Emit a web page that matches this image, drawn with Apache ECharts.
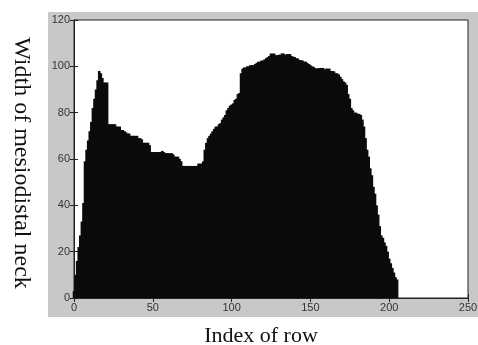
<!DOCTYPE html>
<html>
<head>
<meta charset="utf-8">
<script src="https://cdn.jsdelivr.net/npm/echarts@6/dist/echarts.min.js"></script>
<style>
  html, body { margin: 0; padding: 0; background: #fff; }
  #chart { width: 478px; height: 345px; }
</style>
</head>
<body>
<div id="chart"></div>
<script>
// width of the neck per row index (row 0 .. 205)
const widths = [
  3, 10, 16, 22, 27, 33, 41, 59, 64, 68,
  72, 76, 82, 86, 90, 94, 98, 97, 95, 93,
  93, 93, 75, 75, 75, 75, 75, 74, 74, 74,
  72.5, 72.5, 72, 71.5, 71, 71, 70, 70, 70, 70,
  70, 69, 69, 68.5, 67, 67, 67, 67, 66, 63,
  63, 63, 63, 63, 63, 63, 63.5, 63, 62.5, 62.5,
  62.5, 62.5, 62.5, 62, 61, 61, 61, 60, 59, 57,
  57, 57, 57, 57, 57, 57, 57, 57, 57, 58,
  58, 58, 59, 64, 67, 69, 70, 71, 72, 73,
  74, 74, 75, 75.5, 77, 78, 79, 81, 82, 83,
  83.5, 84, 85.5, 86, 88, 88.5, 97, 99, 99.5, 99.5,
  100, 100, 100.5, 100.5, 100.5, 101, 101.5, 102, 102, 102.5,
  102.5, 103, 103.5, 104, 104.5, 105.5, 105.5, 105.5, 104.8, 104.8,
  105, 105, 105.6, 105.5, 104.8, 105.3, 105.3, 105.3, 104.5, 104.2,
  104, 103.5, 103.4, 102.7, 102.7, 102.5, 102, 102, 101.5, 101,
  100.5, 100, 99.8, 99.2, 99.1, 99.1, 99.3, 99.3, 99.3, 98.6,
  99, 99, 99, 98, 98, 97.8, 97, 97, 96.5, 95.5,
  94.5, 93.5, 93, 92, 88, 86, 82, 81, 80, 80,
  79.5, 79.5, 79, 77, 74, 69, 64, 61, 56, 53,
  48, 45, 40, 36, 31, 27, 26, 24, 22.5, 20,
  17, 15, 13, 11, 9, 8
];

const xTitle = 'Index of row';
const yTitle = 'Width of mesiodistal neck';

const chart = echarts.init(document.getElementById('chart'), null, { renderer: 'canvas' });

const frame = '#222';
const labelStyle = { fontFamily: 'Liberation Sans, Arial, sans-serif', fontSize: 11, color: '#333' };

const option = {
  backgroundColor: '#fff',
  animation: false,
  graphic: [{
    type: 'rect',
    z: -10,
    shape: { x: 48, y: 12, width: 430, height: 305 },
    style: { fill: '#c8c8c8' }
  }],
  grid: {
    left: 74, top: 20, width: 394, height: 278,
    show: true, backgroundColor: '#fff', borderColor: frame, borderWidth: 1,
    containLabel: false, outerBoundsMode: 'none'
  },
  xAxis: [{
    type: 'value', min: 0, max: 250, interval: 50,
    name: xTitle, nameLocation: 'middle', nameGap: 27,
    nameTextStyle: { fontFamily: 'Liberation Serif, Times New Roman, serif', fontSize: 22, color: '#111', padding: [0, 20, 0, 0] },
    axisLine: { show: true, lineStyle: { color: frame } },
    axisTick: { show: true, inside: true, length: 4, lineStyle: { color: frame } },
    axisLabel: Object.assign({ margin: 4 }, labelStyle),
    splitLine: { show: false }
  }, {
    type: 'value', min: 0, max: 250, interval: 50, position: 'top',
    axisLine: { show: true, lineStyle: { color: frame } },
    axisTick: { show: true, inside: true, length: 4, lineStyle: { color: frame } },
    axisLabel: { show: false },
    splitLine: { show: false }
  }],
  yAxis: [{
    type: 'value', min: 0, max: 120, interval: 20,
    name: yTitle, nameLocation: 'middle', nameGap: 41, nameRotate: -90,
    nameTextStyle: { fontFamily: 'Liberation Serif, Times New Roman, serif', fontSize: 24, color: '#111', padding: [0, 0, 0, 8] },
    axisLine: { show: true, lineStyle: { color: frame } },
    axisTick: { show: true, inside: true, length: 4, lineStyle: { color: frame } },
    axisLabel: Object.assign({ margin: 4 }, labelStyle),
    splitLine: { show: false }
  }, {
    type: 'value', min: 0, max: 120, interval: 20, position: 'right',
    axisLine: { show: true, lineStyle: { color: frame } },
    axisTick: { show: true, inside: true, length: 4, lineStyle: { color: frame } },
    axisLabel: { show: false },
    splitLine: { show: false }
  }],
  series: [{
    type: 'bar',
    xAxisIndex: 0,
    yAxisIndex: 0,
    barWidth: 2.6,
    itemStyle: { color: '#0b0b0b' },
    data: widths.map((v, i) => [i, v])
  }]
};

chart.setOption(option);
</script>
</body>
</html>
